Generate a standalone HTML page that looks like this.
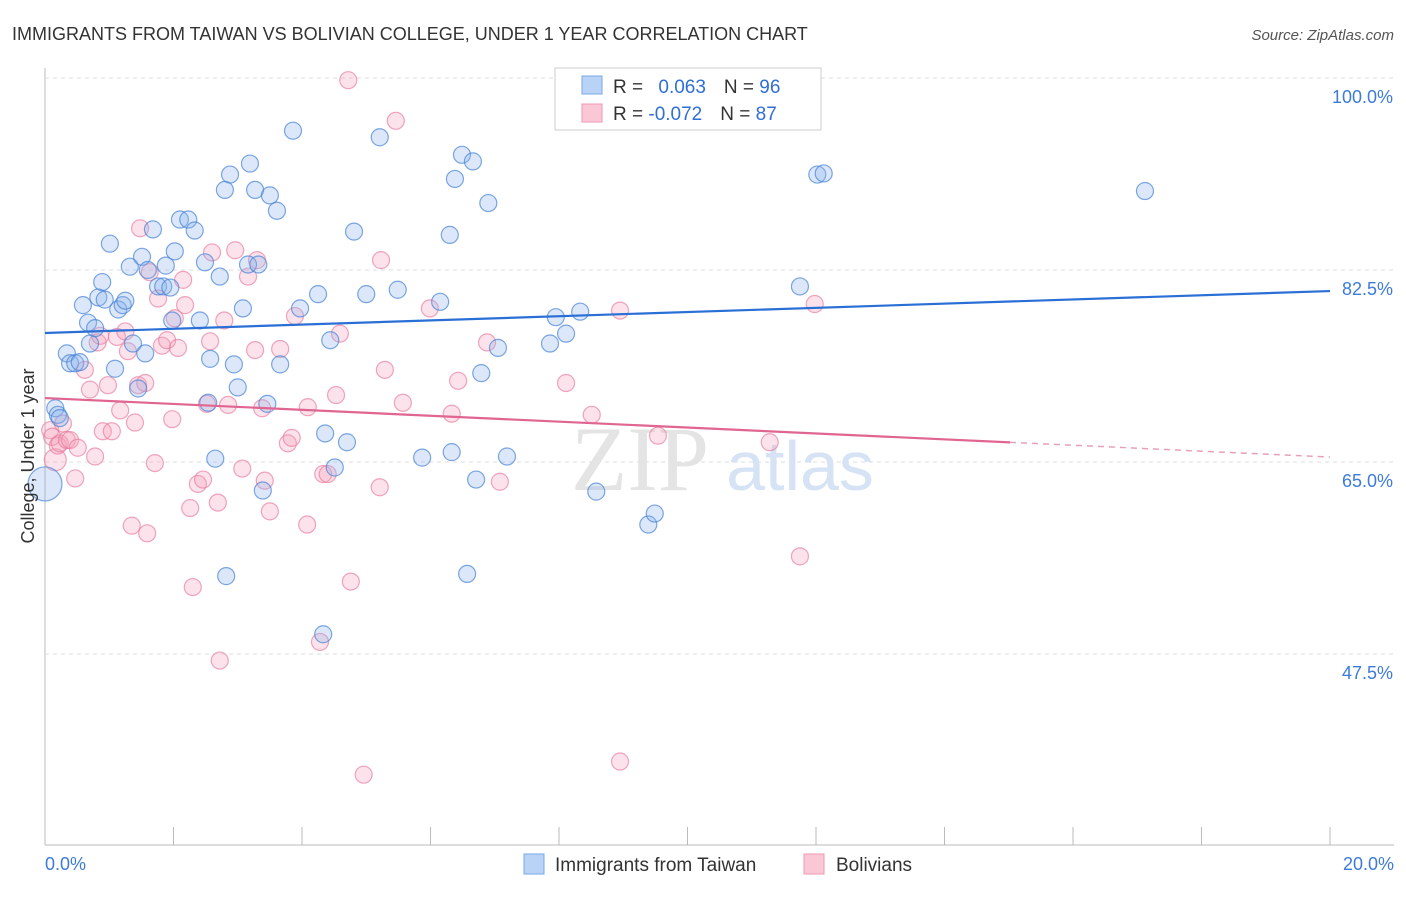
<!DOCTYPE html>
<html><head><meta charset="utf-8"><style>
body{margin:0;background:#fff;font-family:"Liberation Sans",sans-serif}
</style></head><body>
<svg width="1406" height="892" xmlns="http://www.w3.org/2000/svg">
<text x="12" y="40" font-size="18" fill="#333">IMMIGRANTS FROM TAIWAN VS BOLIVIAN COLLEGE, UNDER 1 YEAR CORRELATION CHART</text>
<text x="1394" y="40" font-size="15" fill="#555" font-style="italic" text-anchor="end">Source: ZipAtlas.com</text>
<g id="grid"></g>
<text x="640" y="490" font-size="92" fill="#e4e4e4" font-family="Liberation Serif" text-anchor="middle">ZIP</text>
<text x="800" y="490" font-size="70" fill="#d5e3f5" text-anchor="middle">atlas</text>
<g id="pts"></g>
<g id="lines"></g>
<text transform="translate(34,456) rotate(-90)" font-size="18" fill="#333" text-anchor="middle">College, Under 1 year</text>
<g>
<rect x="555" y="68" width="266" height="62" fill="#fff" stroke="#ccc"/>
<rect x="582" y="76" width="20" height="18" fill="#b8d3f5" stroke="#7aa7e6"/>
<rect x="582" y="104" width="20" height="18" fill="#fac7d6" stroke="#ee9ab3"/>
<text x="613" y="93" font-size="19" fill="#333">R = <tspan fill="#2f6fd6" dx="10">0.063</tspan><tspan dx="18">N = </tspan><tspan fill="#2f6fd6">96</tspan></text>
<text x="613" y="120" font-size="19" fill="#333">R = <tspan fill="#2f6fd6">-0.072</tspan><tspan dx="18">N = </tspan><tspan fill="#2f6fd6">87</tspan></text>
</g>
<g>
<rect x="524" y="854" width="20" height="20" fill="#b8d3f5" stroke="#7aa7e6"/>
<text x="555" y="871" font-size="19" fill="#333">Immigrants from Taiwan</text>
<rect x="804" y="854" width="20" height="20" fill="#fac7d6" stroke="#ee9ab3"/>
<text x="836" y="871" font-size="19" fill="#333">Bolivians</text>
</g>
</svg>
<script>
const xTicks=[0,2,4,6,8,10,12,14,16,18,20];
const yTicks=[47.5,65,82.5,100];
const yTickLabels=["47.5%","65.0%","82.5%","100.0%"];
const xTickLabels=["0.0%","20.0%"];
const blueX=[0,.16,.2,.23,.34,.39,.47,.54,.59,.67,.7,.78,.83,.89,.93,1.01,1.09,1.14,1.21,1.25,1.32,1.37,1.45,1.51,1.56,1.6,1.68,1.76,1.84,1.88,1.95,1.98,2.02,2.1,2.23,2.33,2.41,2.49,2.54,2.57,2.65,2.72,2.8,2.82,2.88,2.94,3.0,3.08,3.16,3.19,3.27,3.32,3.39,3.46,3.5,3.61,3.66,3.86,3.97,4.25,4.33,4.36,4.44,4.51,4.7,4.81,5.0,5.21,5.49,5.87,6.15,6.3,6.33,6.38,6.49,6.57,6.66,6.71,6.79,6.9,7.05,7.19,7.86,7.95,8.11,8.33,8.58,9.39,9.49,11.75,12.02,12.12,17.12];
const blueY=[63.0,69.9,69.3,69.0,74.9,74.0,74.0,74.1,79.3,77.7,75.8,77.2,80.0,81.4,79.8,84.9,73.5,78.9,79.3,79.7,82.8,75.8,71.7,83.7,74.9,82.5,86.2,81.0,81.0,82.9,80.9,77.9,84.2,87.1,87.1,86.1,77.9,83.2,70.4,74.4,65.3,81.9,89.8,54.6,91.2,73.9,71.8,79.0,83.0,92.2,89.8,83.0,62.4,70.3,89.3,87.9,73.9,95.2,79.0,80.3,49.3,67.6,76.1,64.5,66.8,86.0,80.3,94.6,80.7,65.4,79.6,85.7,65.9,90.8,93.0,54.8,92.4,63.4,73.1,88.6,75.4,65.5,75.8,78.2,76.7,78.7,62.3,59.3,60.3,81.0,91.2,91.3,89.7];
const pinkX=[.08,.11,.16,.2,.23,.28,.34,.39,.47,.51,.62,.7,.78,.82,.86,.9,.98,1.04,1.12,1.17,1.25,1.29,1.35,1.4,1.45,1.48,1.56,1.59,1.63,1.71,1.76,1.82,1.9,1.98,2.02,2.07,2.15,2.18,2.26,2.3,2.38,2.46,2.52,2.57,2.6,2.69,2.72,2.79,2.85,2.96,3.07,3.16,3.27,3.3,3.38,3.42,3.5,3.66,3.78,3.84,3.89,4.08,4.09,4.28,4.33,4.4,4.53,4.59,4.72,4.76,4.96,5.21,5.23,5.29,5.46,5.57,5.99,6.33,6.43,6.88,7.08,8.11,8.51,8.95,8.95,9.54,11.28,11.75,11.98];
const pinkY=[67.9,67.3,65.2,66.5,66.7,68.5,67.0,67.0,63.5,66.3,73.4,71.6,65.5,75.9,76.5,67.8,72.0,67.8,76.4,69.7,76.9,75.1,59.2,68.6,72.0,86.3,72.2,58.5,82.3,64.9,79.9,75.6,76.1,68.9,78.1,75.4,81.6,79.3,60.8,53.6,63.0,63.4,70.3,76.0,84.1,61.3,46.9,77.9,70.2,84.3,64.4,81.9,75.2,83.4,69.9,63.3,60.5,75.3,66.7,67.2,78.3,59.3,70.0,48.6,63.9,63.9,71.1,76.7,99.8,54.1,36.5,62.7,83.4,73.4,96.1,70.4,79.0,69.4,72.4,75.9,63.2,72.2,69.3,37.7,78.8,67.4,66.8,56.4,79.4];
const blueTrend=[76.76,80.58];
const pinkTrend=[70.83,65.45];
const pinkSolidEnd=15.02;

const NS="http://www.w3.org/2000/svg";
const sx=v=>45+v/20*1285;
const sy=v=>78+(100-v)/17.5*192;
function mk(tag,attrs,parent){const e=document.createElementNS(NS,tag);for(const k in attrs)e.setAttribute(k,attrs[k]);parent.appendChild(e);return e;}
const grid=document.getElementById('grid');
let a=mk('line',{x1:45,y1:68,x2:45,y2:845,stroke:'#bbb'},grid);


a=mk('line',{x1:45,y1:845,x2:1394,y2:845,stroke:'#bbb'},grid);


yTicks.forEach((t,i)=>{
  const g=mk('line',{x1:45,x2:1394,y1:sy(t),y2:sy(t),stroke:'#ddd','stroke-dasharray':'4,4'},grid);
  
  
  const l=mk('text',{x:1393,y:sy(t)+25,'font-size':18,fill:'#3d7bd9','text-anchor':'end'},grid);
  l.textContent=yTickLabels[i];
  
  
});
xTicks.forEach(t=>{
  const k=mk('line',{x1:sx(t),x2:sx(t),y1:827,y2:845,stroke:'#bbb'},grid);
  
  
});
[[0,45,'start'],[20,1394,'end']].forEach((d,i)=>{
  const l=mk('text',{x:d[1],y:870,'font-size':18,fill:'#3d7bd9','text-anchor':d[2]},grid);
  l.textContent=xTickLabels[i];
  
  
});
const pts=document.getElementById('pts');
pinkX.forEach((x,i)=>{
  const c=mk('circle',{cx:sx(x),cy:sy(pinkY[i]),r:i==2?11:8.5,fill:'rgba(245,160,185,0.3)',stroke:'rgba(232,120,155,0.65)','stroke-width':1.2},pts);
  
  
});
blueX.forEach((x,i)=>{
  const c=mk('circle',{cx:sx(x),cy:sy(blueY[i]),r:i==0?17:8.5,fill:'rgba(140,180,235,0.3)',stroke:'rgba(70,130,215,0.7)','stroke-width':1.2},pts);
  
  
});
const lines=document.getElementById('lines');
let t=mk('line',{x1:sx(0),y1:sy(blueTrend[0]),x2:sx(20),y2:sy(blueTrend[1]),stroke:'#2a6fd6','stroke-width':2.2},lines);


const pAt=x=>pinkTrend[0]+(pinkTrend[1]-pinkTrend[0])*x/20;
t=mk('line',{x1:sx(0),y1:sy(pinkTrend[0]),x2:sx(pinkSolidEnd),y2:sy(pAt(pinkSolidEnd)),stroke:'#e06590','stroke-width':2.2},lines);


t=mk('line',{x1:sx(pinkSolidEnd),y1:sy(pAt(pinkSolidEnd)),x2:sx(20),y2:sy(pinkTrend[1]),stroke:'#e8a0b8','stroke-width':1.5,'stroke-dasharray':'6,5'},lines);


</script>
</body></html>
